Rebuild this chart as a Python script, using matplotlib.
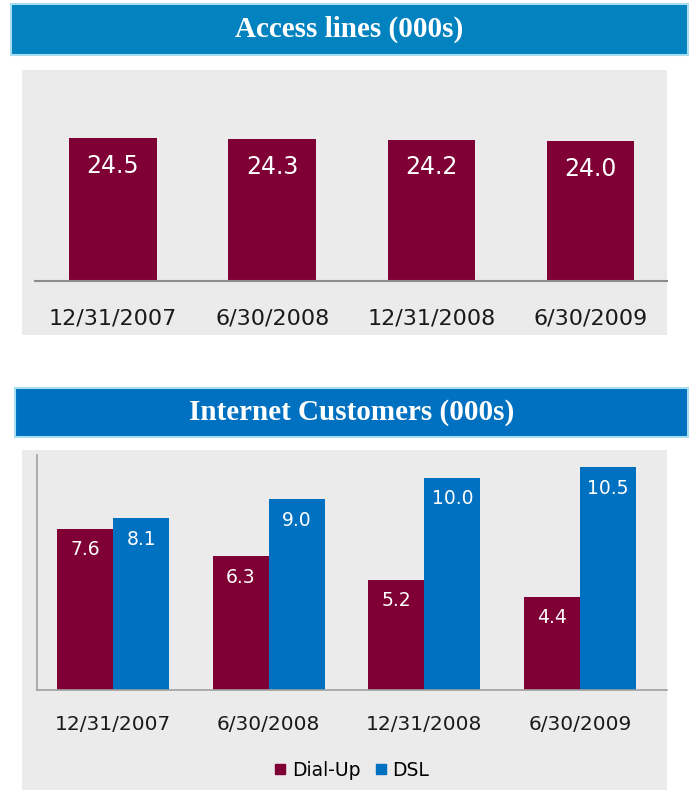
"""
Access lines and internet customers, two stacked bar panels.
"""

import matplotlib.pyplot as plt
import numpy as np
from matplotlib.lines import Line2D
from matplotlib.patches import Rectangle

dates = ["12/31/2007", "6/30/2008", "12/31/2008", "6/30/2009"]
access_lines = [24.5, 24.3, 24.2, 24.0]
dial_up = [7.6, 6.3, 5.2, 4.4]
dsl = [8.1, 9.0, 10.0, 10.5]

MAROON = "#7E0035"
BLUE = "#0070C0"
GREY_BG = "#EBEBEB"

W, H = 691, 790
fig = plt.figure(figsize=(W / 100, H / 100), dpi=100)
fig.patch.set_facecolor("white")


def px_rect(x0, y0, x1, y1):
    # pixel box (top-left origin) -> figure fraction [left, bottom, width, height]
    return [x0 / W, 1 - y1 / H, (x1 - x0) / W, (y1 - y0) / H]


def add_box(x0, y0, x1, y1, **kw):
    l, b, w, h = px_rect(x0, y0, x1, y1)
    fig.patches.append(Rectangle((l, b), w, h, transform=fig.transFigure,
                                 zorder=-5, **kw))


def banner(x0, y0, x1, y1, color, text):
    add_box(x0, y0, x1, y1, facecolor=color, edgecolor="#A8DDF2", linewidth=1.5)
    fig.text((x0 + x1) / 2 / W, 1 - (y0 + y1) / 2 / H, text, color="white",
             fontsize=21, fontweight="bold", family="Liberation Serif",
             ha="center", va="center")


# --- top panel ---
banner(11, 4, 688, 55, "#0283BF", "Access lines (000s)")
add_box(22, 70, 667, 335, facecolor=GREY_BG, edgecolor="none")

ax1 = fig.add_axes(px_rect(35, 75, 667, 281))
ax1.set_facecolor("none")
x = np.arange(len(dates))
bars = ax1.bar(x, access_lines, width=0.55, color=MAROON)
ax1.set_xlim(-0.49, 3.48)
ax1.set_ylim(0, 206 / 5.84)
for b, v in zip(bars, access_lines):
    ax1.annotate(f"{v:.1f}", (b.get_x() + b.get_width() / 2, v),
                 xytext=(0, -20), textcoords="offset points",
                 ha="center", va="center", color="white", fontsize=17)
for s in ["left", "right", "top"]:
    ax1.spines[s].set_visible(False)
ax1.spines["bottom"].set_color("#8C8C8C")
ax1.spines["bottom"].set_linewidth(1.5)
ax1.set_yticks([])
ax1.set_xticks(x)
ax1.set_xticklabels(dates, fontsize=16, color="#1A1A1A")
ax1.tick_params(axis="x", length=0, pad=20)

# --- bottom panel ---
banner(15, 388, 688, 437, BLUE, "Internet Customers (000s)")
add_box(22, 450, 667, 790, facecolor=GREY_BG, edgecolor="none")

ax2 = fig.add_axes(px_rect(37, 455, 667, 690))
ax2.set_facecolor("none")
bw = 0.36
b_dial = ax2.bar(x - bw / 2, dial_up, width=bw, color=MAROON, label="Dial-Up")
b_dsl = ax2.bar(x + bw / 2, dsl, width=bw, color=BLUE, label="DSL")
ax2.set_xlim(-0.49, 3.56)
ax2.set_ylim(0, 235 / 21.2)
for group in (b_dial, b_dsl):
    for b in group:
        v = b.get_height()
        ax2.annotate(f"{v:.1f}", (b.get_x() + b.get_width() / 2, v),
                     xytext=(0, -15), textcoords="offset points",
                     ha="center", va="center", color="white", fontsize=13.5)
for s in ["right", "top"]:
    ax2.spines[s].set_visible(False)
for s in ["left", "bottom"]:
    ax2.spines[s].set_color("#A0A0A0")
    ax2.spines[s].set_linewidth(1.2)
ax2.set_yticks([])
ax2.set_xticks(x)
ax2.set_xticklabels(dates, fontsize=14.5, color="#1A1A1A")
ax2.tick_params(axis="x", length=0, pad=18)

handles = [
    Line2D([], [], marker="s", linestyle="none", color=MAROON, markersize=7, label="Dial-Up"),
    Line2D([], [], marker="s", linestyle="none", color=BLUE, markersize=7, label="DSL"),
]
fig.legend(handles=handles, loc="center", bbox_to_anchor=(350 / W, 1 - 770 / H),
           ncol=2, frameon=False, fontsize=13.5, handletextpad=0.1,
           columnspacing=0.6, handlelength=1.0)

fig.savefig("out.png", dpi=100)
